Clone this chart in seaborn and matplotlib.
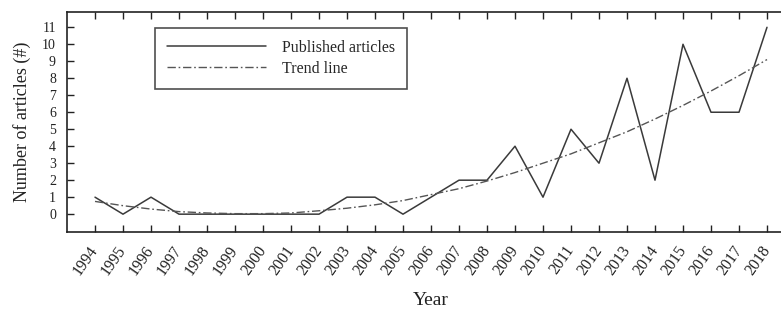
import pandas as pd
import seaborn as sns
import matplotlib
matplotlib.use('Agg')
import matplotlib.pyplot as plt
from matplotlib.lines import Line2D

years = list(range(1994, 2019))
articles = [1, 0, 1, 0, 0, 0, 0, 0, 0, 1, 1, 0, 1, 2, 2, 4, 1, 5, 3, 8, 2, 10, 6, 6, 11]
trend = [0.75, 0.5, 0.3, 0.15, 0.07, 0.03, 0.03, 0.07, 0.2, 0.35, 0.55, 0.8, 1.15,
         1.5, 1.95, 2.45, 3.0, 3.55, 4.2, 4.85, 5.6, 6.4, 7.25, 8.15, 9.1]
y_ticks = list(range(0, 12))

df = pd.DataFrame({'Year': years, 'Published articles': articles, 'Trend line': trend})

sns.set_style('ticks')
plt.rcParams['font.family'] = ['Liberation Serif', 'DejaVu Serif']

fig = plt.figure(figsize=(7.81, 3.09), dpi=100)
ax = fig.add_axes([67 / 781, 1 - 232 / 309, (795 - 67) / 781, 220 / 309])

sns.lineplot(data=df, x='Year', y='Published articles', color='#3a3a3a',
             linewidth=1.1, ax=ax)
sns.lineplot(data=df, x='Year', y='Trend line', color='#555555',
             linewidth=1.0, dashes=False, ax=ax)
ax.lines[1].set_dashes([6, 2, 1.2, 2])

ax.set_xlim(1993, 2019)
ax.set_ylim(-1.05, 11.9)
ax.set_xticks(years)
ax.set_xticklabels([str(y) for y in years], rotation=55, ha='right',
                   va='center', rotation_mode='anchor', fontsize=11.5)
ax.set_yticks(y_ticks)
ax.set_yticklabels([str(v) for v in y_ticks], fontsize=10)
ax.tick_params(axis='x', direction='in', top=True, length=5, width=1, pad=11,
               colors='#222222')
ax.tick_params(axis='y', direction='in', length=5, width=1, pad=8,
               colors='#222222')
for s in ['left', 'top', 'bottom']:
    ax.spines[s].set_linewidth(1.2)
    ax.spines[s].set_color('#222222')
ax.spines['right'].set_visible(False)

ax.set_xlabel('Year', fontsize=14, labelpad=10, color='#222222')
ax.set_ylabel('Number of articles (#)', fontsize=13, labelpad=8, color='#222222')

handles = [Line2D([], [], color='#3a3a3a', linewidth=1.1),
           Line2D([], [], color='#555555', linewidth=1.0, dashes=[6, 2, 1.2, 2])]
leg = ax.legend(handles, ['Published articles', 'Trend line'],
                loc='upper left', bbox_to_anchor=((155 - 67) / 728, 1 - 16 / 220),
                frameon=True, fancybox=False, edgecolor='#222222',
                fontsize=11.5, handlelength=6.2, labelspacing=0.3,
                borderpad=0.75, handletextpad=1.0, borderaxespad=0)
leg.get_frame().set_linewidth(1.2)

fig.savefig('out.png', dpi=100)
